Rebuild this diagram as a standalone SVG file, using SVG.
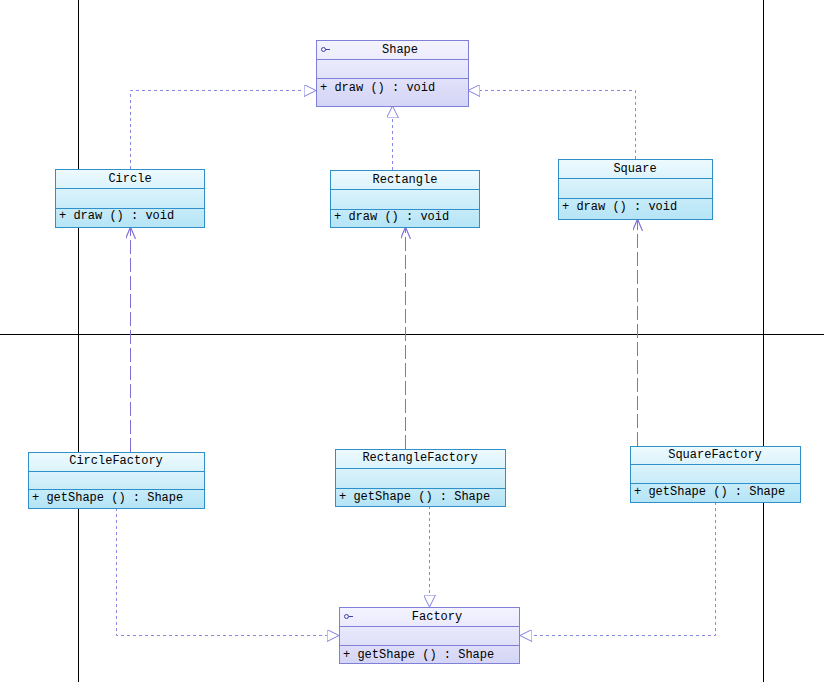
<svg xmlns="http://www.w3.org/2000/svg" width="824" height="682" viewBox="0 0 824 682">
<defs>
<linearGradient id="gi" x1="0" y1="0" x2="0" y2="1"><stop offset="0" stop-color="#f4f4ff"/><stop offset="1" stop-color="#d4d4f6"/></linearGradient>
<linearGradient id="gc" x1="0" y1="0" x2="0" y2="1"><stop offset="0" stop-color="#eefafe"/><stop offset="1" stop-color="#b4e4f6"/></linearGradient>
<marker id="tri" viewBox="0 0 12 12" refX="12" refY="6" markerWidth="12" markerHeight="12" markerUnits="userSpaceOnUse" orient="auto"><path d="M0,0 L12,6 L0,12 Z" fill="#fff" stroke="#8080e0" stroke-width="1"/></marker>
<marker id="dep" viewBox="0 0 12 10" refX="12" refY="5" markerWidth="12" markerHeight="10" markerUnits="userSpaceOnUse" orient="auto"><path d="M0,0 L12,5 L0,10" fill="none" stroke="#8070d8" stroke-width="1.2"/></marker>
</defs>
<style>
.bg{fill:#fff}
.frame{stroke:#000;stroke-width:1;fill:none}
.ib{fill:url(#gi);stroke:#8080d8;stroke-width:1}
.cb{fill:url(#gc);stroke:#2f8fc8;stroke-width:1}
.id{stroke:#8080d8;stroke-width:1}
.cd{stroke:#2f8fc8;stroke-width:1}
text{font-family:"Liberation Mono","DejaVu Sans Mono",monospace;font-size:12px;fill:#000}
.t{text-anchor:middle}
.real{fill:none;stroke:#8888e0;stroke-width:1;stroke-dasharray:3,3}
.dp{fill:none;stroke:#8070d8;stroke-width:1;stroke-dasharray:14,4}
.ic{fill:none;stroke:#4040b0;stroke-width:1}
</style>
<rect class="bg" x="0" y="0" width="824" height="682"/>
<g id="frame">
<line class="frame" x1="78.5" y1="0" x2="78.5" y2="682"/>
<line class="frame" x1="763.5" y1="0" x2="763.5" y2="682"/>
<line class="frame" x1="0" y1="334.5" x2="824" y2="334.5"/>
</g>
<g id="connectors">
<path class="real" d="M130.5,169 V90.5 H316" marker-end="url(#tri)"/>
<path class="real" d="M635.5,159 V90.5 H468" marker-end="url(#tri)"/>
<path class="real" d="M392.5,170 V106" marker-end="url(#tri)"/>
<path class="dp" d="M130.5,452 V227" marker-end="url(#dep)"/>
<path class="dp" d="M405.5,449 V227" marker-end="url(#dep)"/>
<path class="dp" d="M637.5,446 V219" marker-end="url(#dep)"/>
<path class="real" d="M116.5,508 V635.5 H339" marker-end="url(#tri)"/>
<path class="real" d="M429.5,506 V607" marker-end="url(#tri)"/>
<path class="real" d="M715.5,502 V635.5 H520" marker-end="url(#tri)"/>
</g>
<g id="Shape">
<rect class="ib" x="316.5" y="40.5" width="152" height="66"/>
<line class="id" x1="316.5" y1="59.5" x2="468.5" y2="59.5"/>
<line class="id" x1="316.5" y1="78.5" x2="468.5" y2="78.5"/>
<circle class="ic" cx="323.5" cy="49.5" r="2"/><line class="ic" x1="325.5" y1="49.5" x2="330" y2="49.5"/>
<text class="t" x="400" y="53">Shape</text>
<text x="320" y="91">+ draw () : void</text>
</g>
<g id="Circle">
<rect class="cb" x="55.5" y="169.5" width="149" height="58"/>
<line class="cd" x1="55.5" y1="188.5" x2="204.5" y2="188.5"/>
<line class="cd" x1="55.5" y1="208.5" x2="204.5" y2="208.5"/>
<text class="t" x="130" y="182">Circle</text>
<text x="59" y="219">+ draw () : void</text>
</g>
<g id="Rectangle">
<rect class="cb" x="330.5" y="170.5" width="149" height="57"/>
<line class="cd" x1="330.5" y1="189.5" x2="479.5" y2="189.5"/>
<line class="cd" x1="330.5" y1="209.5" x2="479.5" y2="209.5"/>
<text class="t" x="405" y="183">Rectangle</text>
<text x="334" y="220">+ draw () : void</text>
</g>
<g id="Square">
<rect class="cb" x="558.5" y="159.5" width="154" height="60"/>
<line class="cd" x1="558.5" y1="178.5" x2="712.5" y2="178.5"/>
<line class="cd" x1="558.5" y1="198.5" x2="712.5" y2="198.5"/>
<text class="t" x="635" y="172">Square</text>
<text x="562" y="210">+ draw () : void</text>
</g>
<g id="CircleFactory">
<rect class="cb" x="28.5" y="452.5" width="176" height="56"/>
<line class="cd" x1="28.5" y1="471.5" x2="204.5" y2="471.5"/>
<line class="cd" x1="28.5" y1="489.5" x2="204.5" y2="489.5"/>
<text class="t" x="116" y="464">CircleFactory</text>
<text x="32" y="501">+ getShape () : Shape</text>
</g>
<g id="RectangleFactory">
<rect class="cb" x="335.5" y="449.5" width="170" height="57"/>
<line class="cd" x1="335.5" y1="468.5" x2="505.5" y2="468.5"/>
<line class="cd" x1="335.5" y1="488.5" x2="505.5" y2="488.5"/>
<text class="t" x="420" y="461">RectangleFactory</text>
<text x="339" y="500">+ getShape () : Shape</text>
</g>
<g id="SquareFactory">
<rect class="cb" x="630.5" y="446.5" width="170" height="56"/>
<line class="cd" x1="630.5" y1="464.5" x2="800.5" y2="464.5"/>
<line class="cd" x1="630.5" y1="483.5" x2="800.5" y2="483.5"/>
<text class="t" x="715" y="458">SquareFactory</text>
<text x="634" y="495">+ getShape () : Shape</text>
</g>
<g id="Factory">
<rect class="ib" x="339.5" y="607.5" width="180" height="56"/>
<line class="id" x1="339.5" y1="626.5" x2="519.5" y2="626.5"/>
<line class="id" x1="339.5" y1="645.5" x2="519.5" y2="645.5"/>
<circle class="ic" cx="346.5" cy="616.5" r="2"/><line class="ic" x1="348.5" y1="616.5" x2="353" y2="616.5"/>
<text class="t" x="437" y="620">Factory</text>
<text x="343" y="658">+ getShape () : Shape</text>
</g>
</svg>
